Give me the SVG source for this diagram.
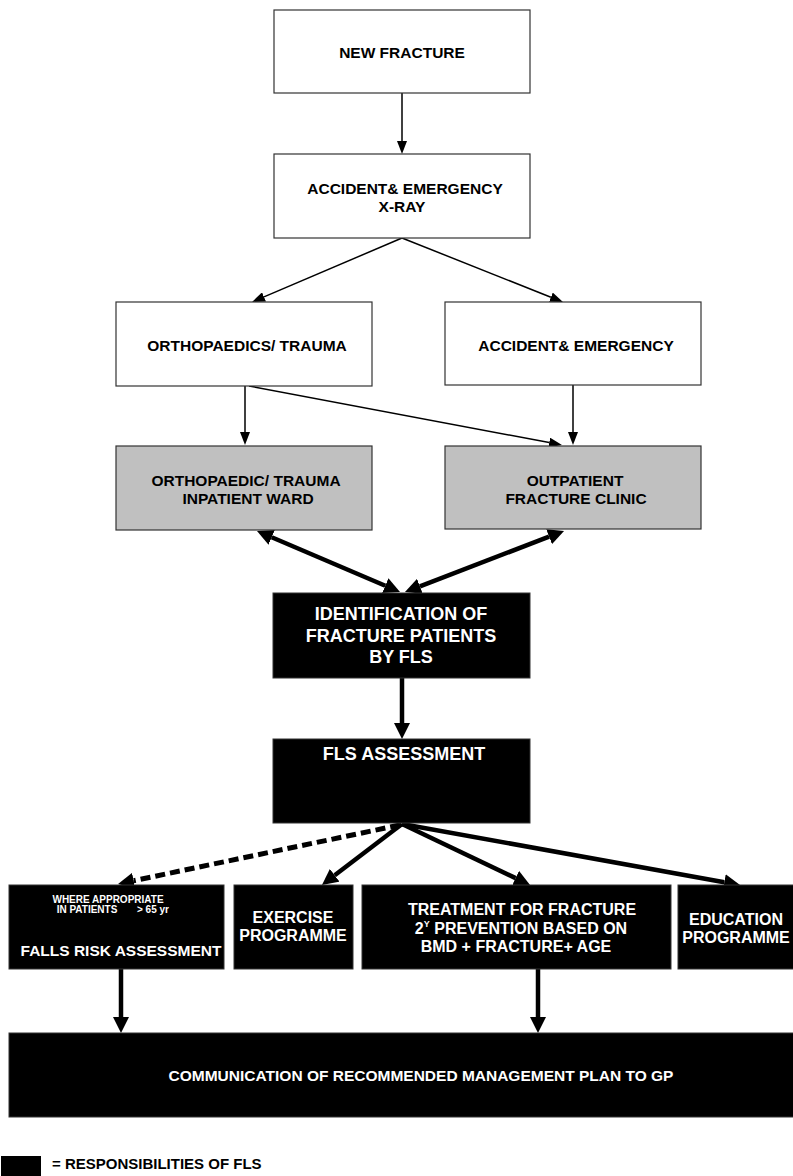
<svg xmlns="http://www.w3.org/2000/svg" width="793" height="1176" viewBox="0 0 793 1176">
<style>
.wbox{fill:#ffffff;stroke:#333333;stroke-width:1.2}
.gbox{fill:#c0c0c0;stroke:#333333;stroke-width:1.2}
.bbox{fill:#000000;stroke:#333333;stroke-width:1}
text{font-family:"Liberation Sans",Arial,sans-serif;font-weight:bold;text-anchor:middle}
.t{font-size:15.5px;fill:#000}
.w{font-size:16px;fill:#fff}
.wl{font-size:18px;fill:#fff}
.ws{font-size:10px;fill:#fff}
.thin{stroke:#000;stroke-width:1.5;fill:none;marker-end:url(#ah)}
.thick{stroke:#000;stroke-width:4.5;fill:none;marker-end:url(#AH)}
.dbl{stroke:#000;stroke-width:4.5;fill:none;marker-end:url(#AH);marker-start:url(#AH)}
.dash{stroke:#000;stroke-width:5;fill:none;stroke-dasharray:10 5;marker-end:url(#AH)}
</style>
<defs>
<marker id="ah" viewBox="0 -5 13 10" refX="0" refY="0" markerWidth="13" markerHeight="10" markerUnits="userSpaceOnUse" orient="auto-start-reverse"><path d="M0,-5 L13,0 L0,5 z" fill="#000"/></marker>
<marker id="AH" viewBox="0 -8 16 16" refX="0" refY="0" markerWidth="16" markerHeight="16" markerUnits="userSpaceOnUse" orient="auto-start-reverse"><path d="M0,-8 L16,0 L0,8 z" fill="#000"/></marker>
</defs>
<rect x="0" y="0" width="793" height="1176" fill="#ffffff"/>

<g id="connectors">
<line class="thin" x1="402" y1="93" x2="402" y2="141"/>
<line class="thin" x1="402" y1="238" x2="264" y2="296.9"/>
<line class="thin" x1="402" y1="238" x2="550.9" y2="297.2"/>
<line class="thin" x1="245" y1="386" x2="245" y2="432"/>
<line class="thin" x1="573" y1="385" x2="573" y2="432"/>
<line class="thin" x1="249" y1="386" x2="549.2" y2="442.6"/>
<line class="dbl" x1="271.7" y1="537.3" x2="385.3" y2="585.7"/>
<line class="dbl" x1="549.1" y1="536.7" x2="419.9" y2="586.3"/>
<line class="thick" x1="402" y1="678" x2="402" y2="723"/>
<line class="dash" x1="400" y1="825" x2="133.7" y2="880.7"/>
<line class="thick" x1="402" y1="824" x2="334.7" y2="875.3"/>
<line class="thick" x1="402" y1="824" x2="515.6" y2="878.1"/>
<line class="thick" x1="402" y1="824" x2="724.3" y2="882.2"/>
<line class="thick" x1="121" y1="969" x2="121" y2="1017"/>
<line class="thick" x1="538" y1="969" x2="538" y2="1017"/>
</g>

<g id="new-fracture">
<rect class="wbox" x="274" y="10" width="256" height="83"/>
<text class="t" x="402" y="57.5">NEW FRACTURE</text>
</g>
<g id="ae-xray">
<rect class="wbox" x="274" y="154" width="256" height="84"/>
<text class="t" x="405" y="193.5">ACCIDENT&amp; EMERGENCY</text>
<text class="t" x="402" y="211.5">X-RAY</text>
</g>
<g id="ortho-trauma">
<rect class="wbox" x="116" y="302" width="256" height="84"/>
<text class="t" x="247" y="350.5">ORTHOPAEDICS/ TRAUMA</text>
</g>
<g id="ae">
<rect class="wbox" x="445" y="302" width="256" height="83"/>
<text class="t" x="576" y="350.5">ACCIDENT&amp; EMERGENCY</text>
</g>
<g id="inpatient-ward">
<rect class="gbox" x="116" y="446" width="256" height="84"/>
<text class="t" x="246" y="485.5">ORTHOPAEDIC/ TRAUMA</text>
<text class="t" x="248" y="503.5">INPATIENT WARD</text>
</g>
<g id="fracture-clinic">
<rect class="gbox" x="445" y="446" width="256" height="83"/>
<text class="t" x="575" y="485.5">OUTPATIENT</text>
<text class="t" x="576" y="503.5">FRACTURE CLINIC</text>
</g>
<g id="identification">
<rect class="bbox" x="273" y="593" width="257" height="85"/>
<text class="wl" x="401" y="619.5">IDENTIFICATION OF</text>
<text class="wl" x="401" y="641.5">FRACTURE PATIENTS</text>
<text class="wl" x="401" y="662.5">BY FLS</text>
</g>
<g id="fls-assessment">
<rect class="bbox" x="273" y="739" width="257" height="84"/>
<text class="wl" x="404" y="759.5">FLS ASSESSMENT</text>
</g>
<g id="falls">
<rect class="bbox" x="9" y="885" width="215" height="84"/>
<text class="ws" x="108" y="902.5">WHERE APPROPRIATE</text>
<text class="ws" x="87" y="912.5">IN PATIENTS</text>
<text class="ws" x="153" y="912.5">&gt; 65 yr</text>
<text class="t" x="121" y="955.5" fill="#fff" style="fill:#fff">FALLS RISK ASSESSMENT</text>
</g>
<g id="exercise">
<rect class="bbox" x="234" y="885" width="119" height="84"/>
<text class="w" x="293" y="922.5">EXERCISE</text>
<text class="w" x="293" y="940.5">PROGRAMME</text>
</g>
<g id="treatment">
<rect class="bbox" x="362" y="885" width="309" height="84"/>
<text class="w" x="522" y="914.5">TREATMENT FOR FRACTURE</text>
<text class="w" x="521" y="933.5">2<tspan font-size="9px" dy="-7">Y</tspan><tspan dy="7"> PREVENTION BASED ON</tspan></text>
<text class="w" x="516" y="951.5">BMD + FRACTURE+ AGE</text>
</g>
<g id="education">
<rect class="bbox" x="678" y="885" width="130" height="84"/>
<text class="w" x="736" y="924.5">EDUCATION</text>
<text class="w" x="736" y="942.5">PROGRAMME</text>
</g>
<g id="communication">
<rect class="bbox" x="9" y="1033" width="824" height="84"/>
<text class="w" x="421" y="1080.5" style="font-size:15.5px">COMMUNICATION OF RECOMMENDED MANAGEMENT PLAN TO GP</text>
</g>
<g id="legend">
<rect x="1" y="1156" width="40" height="20" fill="#000"/>
<text class="t" x="52" y="1168.5" style="text-anchor:start;font-size:15px">= RESPONSIBILITIES OF FLS</text>
</g>
</svg>
